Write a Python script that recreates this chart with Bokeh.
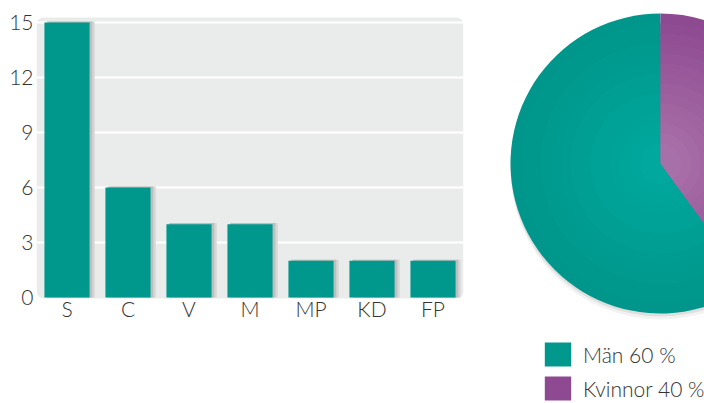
import numpy as np
from bokeh.plotting import figure
from bokeh.layouts import row
from bokeh.models import (ColumnDataSource, FactorRange, Range1d, FixedTicker,
                          Legend, LegendItem, BoxAnnotation)
from bokeh.core.properties import value
from bokeh.transform import dodge
from bokeh.embed import file_html
from bokeh.resources import INLINE

# ---- data ----
parties = ["S", "C", "V", "M", "MP", "KD", "FP"]
seats = [15, 6, 4, 4, 2, 2, 2]
y_ticks = [0, 3, 6, 9, 12, 15]
gender_labels = ["Män 60 %", "Kvinnor 40 %"]
gender_shares = [60, 40]

# ---- style ----
FONT = "Lato Light"
TEXT = "#333333"
TEAL = "#00978D"
PANEL = "#EAECEB"
H = 403

# ================= bar chart =================
bar_src = ColumnDataSource(dict(party=parties, seats=seats,
                                shadow=[s + 0.06 for s in seats],
                                lab_y=[0.1] * len(parties)))

p = figure(x_range=FactorRange(*parties, range_padding=0),
           y_range=Range1d(-5.782, 16.2),
           width=500, height=H, output_backend="svg", toolbar_location=None,
           min_border_left=36, min_border_right=37, min_border_top=0,
           min_border_bottom=0)
p.outline_line_color = None
p.background_fill_color = "white"
p.border_fill_color = "white"

panel = BoxAnnotation(bottom=-0.05, top=15.27, fill_color=PANEL, fill_alpha=1,
                      line_color=None, level="image", border_radius=7)
p.add_layout(panel)

p.vbar(x=dodge("party", 0.085, range=p.x_range), top="shadow", width=0.74,
       source=bar_src, fill_color="#D6D7D7", line_color=None)
p.vbar(x=dodge("party", 0.045, range=p.x_range), top="shadow", width=0.74,
       source=bar_src, fill_color="#BDBEBE", line_color=None)
p.vbar(x="party", top="seats", width=0.74, source=bar_src,
       fill_color=TEAL, line_color=None)

p.text(x="party", y="lab_y", text="party", source=bar_src,
       text_font=value(FONT), text_font_size="21px", text_color=TEXT,
       text_align="center", text_baseline="top")

p.xgrid.grid_line_color = None
p.ygrid.grid_line_color = "white"
p.ygrid.grid_line_width = 2
p.ygrid.ticker = FixedTicker(ticks=y_ticks[1:])
p.xaxis.visible = False

ya = p.yaxis[0]
ya.ticker = FixedTicker(ticks=y_ticks)
ya.axis_line_color = None
ya.major_tick_line_color = None
ya.minor_tick_line_color = None
ya.major_tick_out = 0
ya.major_tick_in = 0
ya.minor_tick_out = 0
ya.major_label_text_font = FONT
ya.major_label_text_color = TEXT
ya.major_label_text_font_size = "21px"
ya.major_label_standoff = 3

# ================= pie chart =================
R = 150
CX, CY = 160, 240
angles = np.radians(np.array(gender_shares) / sum(gender_shares) * 360)
starts = np.pi / 2 + np.concatenate([[0], np.cumsum(angles)[:-1]])
ends = starts + angles

q = figure(x_range=Range1d(0, 204), y_range=Range1d(0, H),
           width=204, height=H, output_backend="svg", toolbar_location=None,
           min_border=0)
q.outline_line_color = None
q.axis.visible = False
q.grid.visible = False

# soft shadow
q.circle(x=[CX], y=[CY - 6], radius=R, fill_color="black",
         fill_alpha=0.05, line_color=None)
q.circle(x=[CX], y=[CY - 3], radius=R, fill_color="black",
         fill_alpha=0.08, line_color=None)

outer = [np.array([0x00, 0x96, 0x8B]), np.array([0x8E, 0x4A, 0x91])]
inner = [np.array([0x00, 0xA8, 0x9D]), np.array([0xA8, 0x70, 0xA9])]
N = 14
for k in range(N):
    t = k / (N - 1)
    r = R * (1 - 0.93 * k / N)
    cols = []
    for o, i in zip(outer, inner):
        c = (o + (i - o) * t).astype(int)
        cols.append("#%02x%02x%02x" % tuple(c))
    src = ColumnDataSource(dict(start=starts, end=ends, color=cols,
                                label=gender_labels))
    q.wedge(x=CX, y=CY, radius=r, start_angle="start", end_angle="end",
            direction="anticlock", fill_color="color", line_color=None,
            source=src)

legend_src = ColumnDataSource(dict(start=starts, end=ends,
                                   color=["#00978D", "#8E4A91"],
                                   label=gender_labels))
lr = q.wedge(x=CX, y=CY, radius=0, start_angle="start", end_angle="end",
             fill_color="color", line_color=None, source=legend_src)

legend = Legend(items=[LegendItem(label=gender_labels[i], renderers=[lr], index=i)
                       for i in range(len(gender_labels))],
                location=(41, 0), orientation="vertical",
                glyph_width=33, glyph_height=30, spacing=4, padding=0, margin=0,
                label_text_font=FONT, label_text_font_size="21px",
                label_text_color=TEXT, label_standoff=9,
                border_line_alpha=0, background_fill_alpha=0)
q.add_layout(legend)

layout = row(p, q, spacing=0)
open("out.html", "w").write(file_html(layout, INLINE))
